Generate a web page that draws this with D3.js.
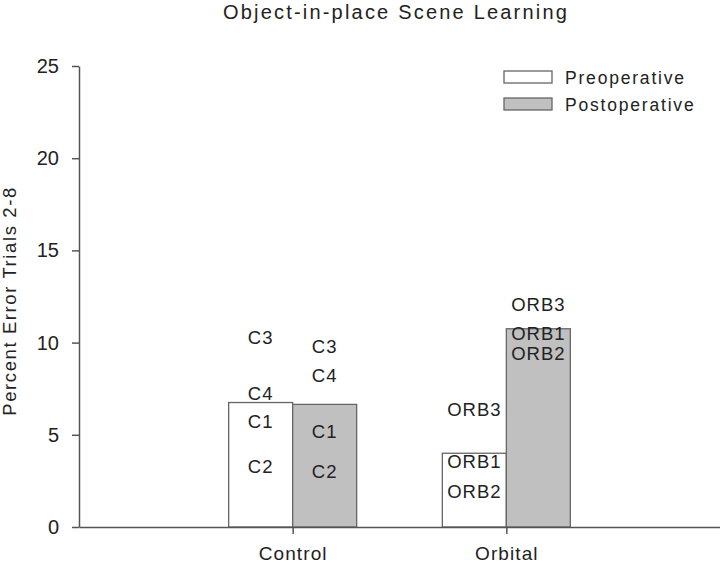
<!DOCTYPE html>
<html lang="en">
<head>
  <meta charset="UTF-8">
  <title>Object-in-place Scene Learning</title>
  <script src="https://d3js.org/d3.v7.min.js"></script>
  <style>
    body { margin: 0; background: #fff; font-family: "Liberation Sans", Arial, sans-serif; }
    .axis path, .axis line { stroke: #555; stroke-width: 1.5px; }
    .axis text { fill: #222; font-family: "Liberation Sans", Arial, sans-serif; }
    .lbl { font-size: 18.5px; fill: #222; letter-spacing: 1px; }
  </style>
</head>
<body>
  <svg id="chart" width="720" height="565"></svg>
  <script>
    // groups and bar means
    const groups = ["Control", "Orbital"];
    const series = ["Preoperative", "Postoperative"];
    const preValues = [6.75, 4.0];
    const postValues = [6.65, 10.75];
    const yTicks = [0, 5, 10, 15, 20, 25];

    // individual subject labels (value = where the label sits)
    const preLabels = [
      [{ name: "C3", v: 10.3 }, { name: "C4", v: 7.25 }, { name: "C1", v: 5.7 }, { name: "C2", v: 3.27 }],
      [{ name: "ORB3", v: 6.35 }, { name: "ORB1", v: 3.54 }, { name: "ORB2", v: 1.91 }]
    ];
    const postLabels = [
      [{ name: "C3", v: 9.78 }, { name: "C4", v: 8.24 }, { name: "C1", v: 5.17 }, { name: "C2", v: 3.0 }],
      [{ name: "ORB3", v: 12.04 }, { name: "ORB1", v: 10.5 }, { name: "ORB2", v: 9.42 }]
    ];

    const svg = d3.select("#chart");
    const mLeft = 79, mRight = 720, mTop = 66, mBottom = 527;
    const fills = ["#ffffff", "#c0c0c0"];

    const x = d3.scaleLinear().domain([0, 3]).range([mLeft, mRight]);
    const y = d3.scaleLinear().domain([0, 25]).range([mBottom, mTop]);
    const barW = 64;

    // title
    svg.append("text")
      .attr("x", 396).attr("y", 19)
      .attr("text-anchor", "middle")
      .style("font-size", "20px").style("fill", "#222").style("letter-spacing", "2.2px")
      .text("Object-in-place Scene Learning");

    // bars
    const barData = [];
    groups.forEach((g, i) => {
      barData.push({ s: 0, gi: i, v: preValues[i] });
      barData.push({ s: 1, gi: i, v: postValues[i] });
    });
    svg.selectAll("rect.bar")
      .data(barData)
      .enter().append("rect")
      .attr("class", "bar")
      .attr("x", d => x(d.gi + 1) - (d.s === 0 ? barW : 0))
      .attr("y", d => y(d.v))
      .attr("width", barW)
      .attr("height", d => y(0) - y(d.v))
      .attr("fill", d => fills[d.s])
      .attr("stroke", "#666")
      .attr("stroke-width", 1.3);

    // subject labels
    [preLabels, postLabels].forEach((set, s) => {
      set.forEach((labels, gi) => {
        const cx = x(gi + 1) + (s === 0 ? -barW / 2 : barW / 2);
        svg.selectAll(null)
          .data(labels)
          .enter().append("text")
          .attr("class", "lbl")
          .attr("x", cx)
          .attr("y", d => y(d.v))
          .attr("dy", "0.35em")
          .attr("text-anchor", "middle")
          .text(d => d.name);
      });
    });

    // y axis
    const yAxis = svg.append("g")
      .attr("class", "axis")
      .attr("transform", `translate(${mLeft},0)`)
      .call(d3.axisLeft(y).tickValues(yTicks).tickSize(7).tickPadding(13).tickSizeOuter(0));
    yAxis.selectAll("text").style("font-size", "20px");

    // x axis
    const xAxis = svg.append("g")
      .attr("class", "axis")
      .attr("transform", `translate(0,${mBottom})`)
      .call(d3.axisBottom(x).tickValues([1, 2]).tickFormat(d => groups[d - 1]).tickSize(7).tickSizeOuter(0));
    xAxis.selectAll("text")
      .attr("y", 33).attr("dy", null)
      .style("font-size", "19px").style("letter-spacing", "1.1px");

    // y axis title
    svg.append("text")
      .attr("transform", `translate(16,301) rotate(-90)`)
      .attr("text-anchor", "middle")
      .style("font-size", "18.5px").style("fill", "#222").style("letter-spacing", "1.6px")
      .text("Percent Error Trials 2-8");

    // legend
    const legend = svg.append("g");
    series.forEach((name, i) => {
      legend.append("rect")
        .attr("x", 504).attr("y", 71 + i * 27)
        .attr("width", 48).attr("height", 12)
        .attr("fill", fills[i])
        .attr("stroke", "#666").attr("stroke-width", 1.3);
      legend.append("text")
        .attr("x", 565).attr("y", 84 + i * 27)
        .style("font-size", "17.5px").style("fill", "#222").style("letter-spacing", "1.8px")
        .text(name);
    });
  </script>
</body>
</html>
